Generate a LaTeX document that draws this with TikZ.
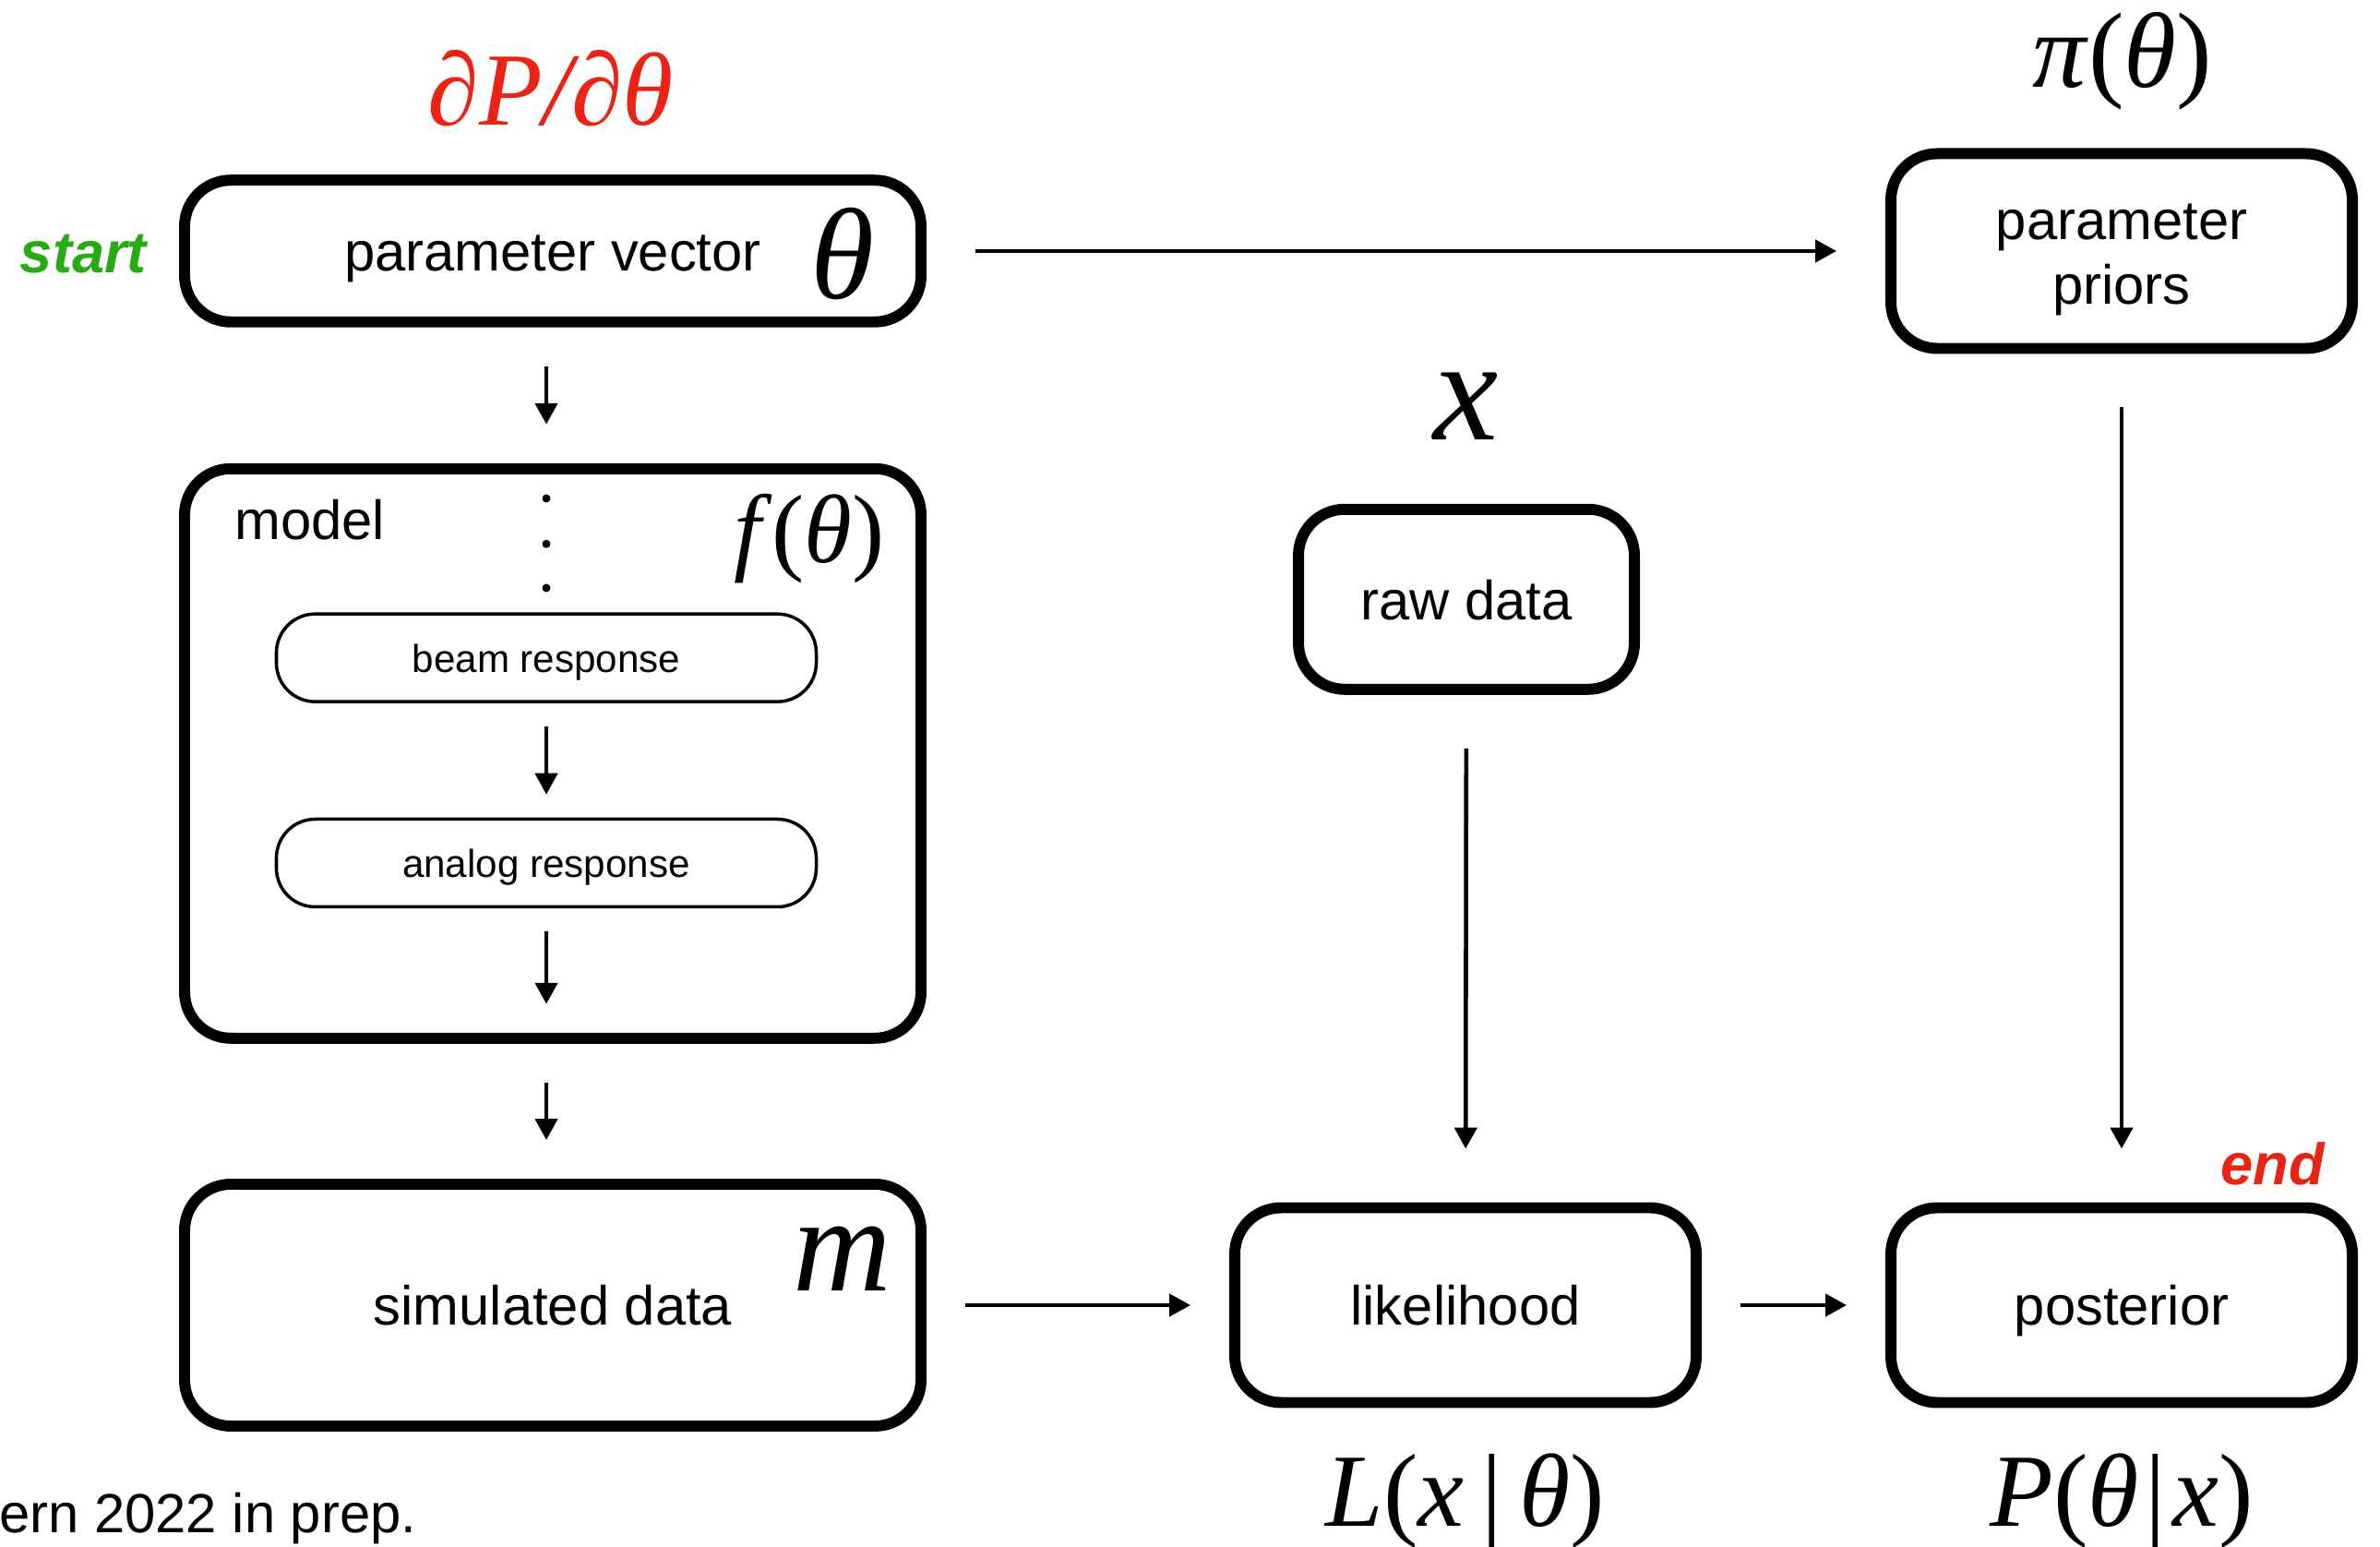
\documentclass[tikz,border=0pt]{standalone}
\usepackage{fontspec}
\setmainfont{Liberation Sans}
\newfontfamily\mathserif{Liberation Serif}
\usetikzlibrary{arrows.meta}
\definecolor{startgreen}{RGB}{40, 170, 20}
\definecolor{endred}{RGB}{235, 35, 20}

\begin{document}
\begin{tikzpicture}[
  bigbox/.style={draw, line width=3.4pt, rounded corners=0.5cm, align=center,
    font=\fontsize{17}{20}\selectfont},
  oneline/.style={text height=12.4pt, text depth=0pt},
  smallbox/.style={draw, line width=1pt, rounded corners=0.42cm,
    minimum width=5.85cm, minimum height=0.95cm, text height=8.8pt, text depth=0pt,
    font=\fontsize{12}{14}\selectfont},
  flow/.style={-{Triangle[length=2.3mm, width=2.4mm]}, line width=1.3pt},
  sym/.style={font={\mathserif\fontsize{#1}{#1}\selectfont}},
  tag/.style={font=\bfseries\itshape\fontsize{18}{20}\selectfont},
  plain/.style={font=\fontsize{17}{20}\selectfont}
]
  \useasboundingbox (0,0) rectangle (25.79,16.75);

  % --- Left column: parameters, model, simulation ---
  \node[tag, text=startgreen] (start) at (0.905,14.0) {start};
  \node[sym=32, text=endred] (grad) at (5.97,15.79) {\textit{∂P/∂θ}};
  \node[bigbox, oneline, minimum width=7.98cm, minimum height=1.535cm] (param) at (5.99,14.03) {parameter vector};
  \node[sym=40] (paramsym) at (9.13,14.0) {\textit{θ}};

  \node[bigbox, minimum width=7.98cm, minimum height=6.17cm] (model) at (5.99,8.587) {};
  \node[plain, anchor=west] (modellabel) at (2.42,11.12) {model};
  \node[sym=30] (modelsym) at (8.77,10.91) {\textit{f}(\textit{θ})};
  % dots above the first stage
  \foreach \y in {11.35, 10.857, 10.38}{
    \fill (5.92,\y) circle (0.045);
  }
  \node[smallbox] (beam) at (5.92,9.623) {beam response};
  \node[smallbox] (analog) at (5.92,7.40) {analog response};

  \node[bigbox, oneline, minimum width=7.98cm, minimum height=2.62cm] (sim) at (5.99,2.61) {simulated data};
  \node[sym=42] (simsym) at (9.13,3.11) {\textit{m}};
  \node[plain, anchor=west] (note) at (-0.13,0.296) {ern 2022 in prep.};

  % --- Middle column: data and likelihood ---
  \node[sym=45] (datasym) at (15.89,12.35) {\textit{x}};
  \node[bigbox, oneline, minimum width=3.64cm, minimum height=1.95cm] (raw) at (15.89,10.257) {raw data};
  \node[bigbox, oneline, minimum width=5.0cm, minimum height=2.11cm] (lik) at (15.88,2.61) {likelihood};
  \node[sym=32] (liksym) at (15.88,0.49) {\textit{L}(\textit{x}\,|\,\textit{θ})};

  % --- Right column: priors and posterior ---
  \node[sym=33] (priorsym) at (23.0,16.09) {\textit{π}(\textit{θ})};
  \node[bigbox, minimum width=5.0cm, minimum height=2.11cm] (priors) at (22.99,14.03)
    {\raisebox{-2.4pt}[\height][\depth]{\begin{tabular}{@{}c@{}}parameter\\priors\end{tabular}}};
  \node[tag, text=endred] (end) at (24.63,4.145) {end};
  \node[bigbox, oneline, minimum width=5.0cm, minimum height=2.11cm] (post) at (22.99,2.61) {posterior};
  \node[sym=32] (postsym) at (22.99,0.49) {\textit{P}(\textit{θ}\kern2pt|\kern2pt\textit{x})};

  % --- connectors ---
  \draw[flow, shorten <=0.53cm, shorten >=0.53cm] (param) -- (priors);
  \draw[flow, shorten <=0.42cm, shorten >=0.42cm] (param.south -| beam) -- (model.north -| beam);
  \draw[flow, shorten <=0.25cm, shorten >=0.25cm] (beam) -- (analog);
  \draw[flow, shorten <=0.25cm, shorten >=0.43cm] (analog) -- (analog |- model.south);
  \draw[flow, shorten <=0.42cm, shorten >=0.42cm] (model.south -| beam) -- (sim.north -| beam);
  \draw[flow, shorten <=0.42cm, shorten >=0.42cm] (sim) -- (lik);
  \draw[flow, shorten <=0.42cm, shorten >=0.42cm] (lik) -- (post);
  \draw[flow, shorten <=0.58cm, shorten >=0.58cm] (raw) -- (lik);
  \draw[flow, shorten <=0.58cm, shorten >=0.58cm] (priors) -- (post);
\end{tikzpicture}
\end{document}
